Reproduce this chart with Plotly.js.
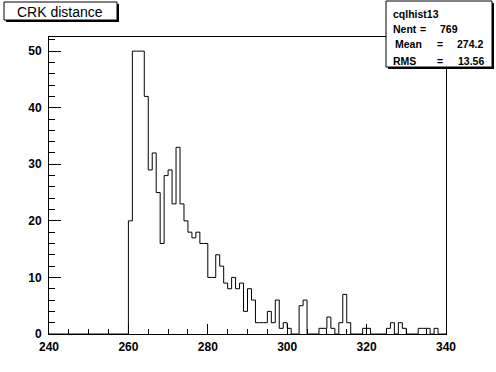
<!DOCTYPE html>
<html>
<head>
<meta charset="utf-8">
<script src="https://cdn.plot.ly/plotly-3.0.1.min.js"></script>
<style>
  html, body { margin: 0; padding: 0; background: #ffffff; }
  #chart { width: 496px; height: 372px; }
</style>
</head>
<body>
<div id="chart"></div>
<script>
// ---- data ----
const histName = "cqlhist13";
const histTitle = "CRK distance";
const binLowEdges = [];
for (let v = 240; v < 340; v++) binLowEdges.push(v);
const binWidth = 1;
const counts = [
  // 240-249
  0, 0, 0, 0, 0, 0, 0, 0, 0, 0,
  // 250-259
  0, 0, 0, 0, 0, 0, 0, 0, 0, 0,
  // 260-269
  20, 50, 50, 50, 42, 29, 32, 25, 16, 28,
  // 270-279
  29, 23, 33, 23, 20, 18, 17, 18, 16, 16,
  // 280-289
  10, 10, 14, 12, 9, 8, 10, 8, 9, 4,
  // 290-299
  8, 6, 2, 2, 2, 4, 2, 6, 1, 2,
  // 300-309
  1, 0, 0, 5, 6, 0, 0, 0, 1, 1,
  // 310-319
  3, 1, 0, 2, 7, 2, 0, 0, 0, 1,
  // 320-329
  1, 0, 0, 0, 0, 1, 2, 0, 2, 1,
  // 330-339
  0, 0, 0, 1, 1, 1, 0, 1, 0, 0
];
const statLabels = ["Nent", "Mean", "RMS"];
const statValues = ["769", "274.2", "13.56"];
const xTickLabels = ["240", "260", "280", "300", "320", "340"];

// ---- step outline built from the bins ----
const stepX = [binLowEdges[0]];
const stepY = [0];
for (let i = 0; i < binLowEdges.length; i++) {
  stepX.push(binLowEdges[i]);
  stepY.push(counts[i]);
}
stepX.push(binLowEdges[binLowEdges.length - 1] + binWidth);
stepY.push(0);

// ---- geometry helpers (pixel -> paper) ----
const W = 496, H = 372;
const L = 49, R = 446, T = 37, B = 334;
const px = p => (p - L) / (R - L);
const py = p => (B - p) / (B - T);

const FONT = "Liberation Sans, Arial, Helvetica, sans-serif";

function box(x0, y0, x1, y1, sh) {
  return [
    { type: "rect", xref: "paper", yref: "paper", layer: "above",
      x0: px(x0 + sh), x1: px(x1 + sh), y0: py(y0 + sh), y1: py(y1 + sh),
      fillcolor: "#000000", line: { width: 0 } },
    { type: "rect", xref: "paper", yref: "paper", layer: "above",
      x0: px(x0), x1: px(x1), y0: py(y0), y1: py(y1),
      fillcolor: "#ffffff", line: { color: "#000000", width: 1 } }
  ];
}

function txt(text, x, y, anchor, size, bold) {
  return {
    text: bold ? "<b>" + text + "</b>" : text,
    xref: "paper", yref: "paper",
    x: px(x), y: py(y), xanchor: anchor, yanchor: "middle",
    showarrow: false,
    font: { family: FONT, size: size, color: "#000000" }
  };
}

const shapes = [].concat(box(4, 2, 117, 20, 2), box(386, 1, 492, 67, 2));

const statY = [29.5, 44, 61];
const eqX = [423, 440, 440];
const valRight = [460, 485, 486];
const annotations = [
  txt(histTitle, 60, 11.5, "center", 14, false),
  txt(histName, 391, 14, "left", 10.5, true)
];
for (let i = 0; i < statLabels.length; i++) {
  annotations.push(txt(statLabels[i], i === 1 ? 393 : 391, statY[i], "left", 10.5, true));
  annotations.push(txt("=", eqX[i], statY[i], "center", 10.5, true));
  annotations.push(txt(statValues[i], valRight[i], statY[i], "right", 10.5, true));
}

const trace = {
  type: "scatter",
  mode: "lines",
  x: stepX,
  y: stepY,
  line: { shape: "hv", color: "#000000", width: 1 },
  hoverinfo: "skip",
  showlegend: false
};

const layout = {
  width: W, height: H,
  margin: { l: L, r: W - R, t: T, b: H - B, pad: 0 },
  paper_bgcolor: "#ffffff",
  plot_bgcolor: "#ffffff",
  showlegend: false,
  xaxis: {
    range: [240, 340],
    tickmode: "array",
    tickvals: xTickLabels.map(Number),
    ticktext: xTickLabels.map(s => "<b>" + s + "</b>"),
    ticks: "inside", ticklen: 10, tickwidth: 1, tickcolor: "#000000",
    minor: { dtick: 5, tick0: 240, ticks: "inside", ticklen: 5, tickwidth: 1, tickcolor: "#000000", showgrid: false },
    showline: true, linecolor: "#000000", linewidth: 1, mirror: true,
    showgrid: false, zeroline: false,
    ticklabelstandoff: 2,
    tickfont: { family: FONT, size: 12, color: "#000000" }
  },
  yaxis: {
    range: [0, 52.5],
    dtick: 10, tick0: 0,
    tickprefix: "<b>", ticksuffix: "</b>",
    ticks: "inside", ticklen: 12, tickwidth: 1, tickcolor: "#000000",
    minor: { dtick: 2, tick0: 0, ticks: "inside", ticklen: 6, tickwidth: 1, tickcolor: "#000000", showgrid: false },
    showline: true, linecolor: "#000000", linewidth: 1, mirror: true,
    showgrid: false, zeroline: false,
    ticklabelstandoff: 4,
    tickfont: { family: FONT, size: 12, color: "#000000" }
  },
  shapes: shapes,
  annotations: annotations
};

Plotly.newPlot("chart", [trace], layout, { staticPlot: true, displayModeBar: false });
</script>
</body>
</html>
